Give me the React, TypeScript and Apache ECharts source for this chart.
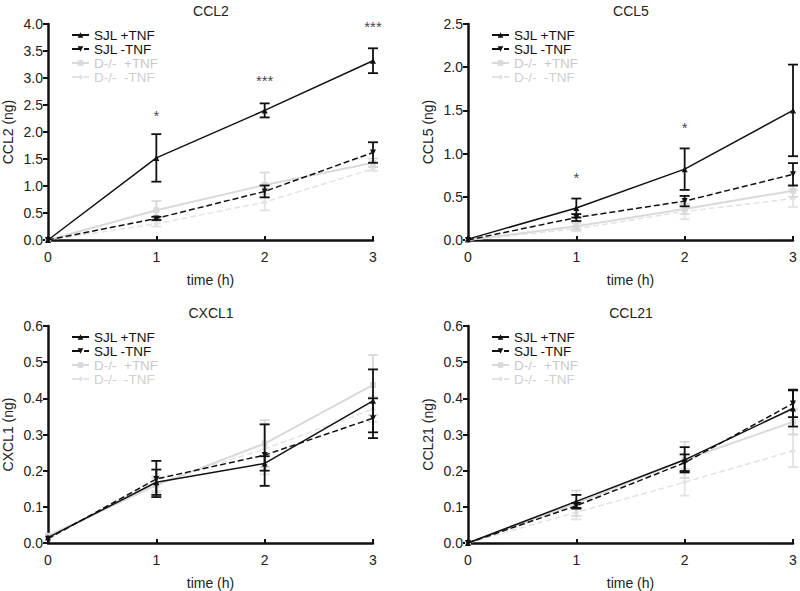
import React, { useEffect, useRef } from "react";
import * as echarts from "echarts";

const hours = [0, 1, 2, 3];
const seriesNames = ["SJL +TNF", "SJL -TNF", "D-/-  +TNF", "D-/-  -TNF"];

// CCL2
const ccl2SjlPlus = [0, 1.52, 2.4, 3.32];
const ccl2SjlPlusErr = [0, 0.44, 0.13, 0.23];
const ccl2SjlMinus = [0, 0.4, 0.9, 1.62];
const ccl2SjlMinusErr = [0, 0.03, 0.11, 0.19];
const ccl2DPlus = [0, 0.55, 1.02, 1.43];
const ccl2DPlusErr = [0, 0.17, 0.23, 0.08];
const ccl2DMinus = [0, 0.3, 0.7, 1.32];
const ccl2DMinusErr = [0, 0.05, 0.15, 0.04];
const ccl2Stars = [[1, 2.3, "*"], [2, 2.95, "***"], [3, 3.95, "***"]];

// CCL5
const ccl5SjlPlus = [0.01, 0.37, 0.82, 1.5];
const ccl5SjlPlusErr = [0, 0.11, 0.24, 0.53];
const ccl5SjlMinus = [0, 0.26, 0.45, 0.76];
const ccl5SjlMinusErr = [0, 0.04, 0.06, 0.13];
const ccl5DPlus = [0, 0.16, 0.36, 0.57];
const ccl5DPlusErr = [0, 0.04, 0.06, 0.07];
const ccl5DMinus = [0, 0.13, 0.33, 0.48];
const ccl5DMinusErr = [0, 0.03, 0.09, 0.1];
const ccl5Stars = [[1, 0.72, "*"], [2, 1.3, "*"]];

// CXCL1
const cxcl1SjlPlus = [0.015, 0.168, 0.22, 0.393];
const cxcl1SjlPlusErr = [0, 0.035, 0.02, 0.087];
const cxcl1SjlMinus = [0.012, 0.177, 0.243, 0.345];
const cxcl1SjlMinusErr = [0, 0.05, 0.085, 0.055];
const cxcl1DPlus = [0.02, 0.16, 0.275, 0.437];
const cxcl1DPlusErr = [0, 0.02, 0.065, 0.083];
const cxcl1DMinus = [0.015, 0.165, 0.26, 0.37];
const cxcl1DMinusErr = [0, 0.02, 0.07, 0.035];

// CCL21
const ccl21SjlPlus = [0, 0.115, 0.23, 0.372];
const ccl21SjlPlusErr = [0, 0.018, 0.035, 0.05];
const ccl21SjlMinus = [0, 0.103, 0.222, 0.386];
const ccl21SjlMinusErr = [0, 0.008, 0.023, 0.038];
const ccl21DPlus = [0, 0.11, 0.23, 0.335];
const ccl21DPlusErr = [0, 0.035, 0.05, 0.035];
const ccl21DMinus = [0, 0.085, 0.168, 0.255];
const ccl21DMinusErr = [0, 0.02, 0.037, 0.045];

const panels = [
  {
    title: "CCL2", yName: "CCL2 (ng)", max: 4, interval: 0.5,
    values: [ccl2SjlPlus, ccl2SjlMinus, ccl2DPlus, ccl2DMinus],
    errors: [ccl2SjlPlusErr, ccl2SjlMinusErr, ccl2DPlusErr, ccl2DMinusErr],
    stars: ccl2Stars,
  },
  {
    title: "CCL5", yName: "CCL5 (ng)", max: 2.5, interval: 0.5,
    values: [ccl5SjlPlus, ccl5SjlMinus, ccl5DPlus, ccl5DMinus],
    errors: [ccl5SjlPlusErr, ccl5SjlMinusErr, ccl5DPlusErr, ccl5DMinusErr],
    stars: ccl5Stars,
  },
  {
    title: "CXCL1", yName: "CXCL1 (ng)", max: 0.6, interval: 0.1,
    values: [cxcl1SjlPlus, cxcl1SjlMinus, cxcl1DPlus, cxcl1DMinus],
    errors: [cxcl1SjlPlusErr, cxcl1SjlMinusErr, cxcl1DPlusErr, cxcl1DMinusErr],
    stars: [],
  },
  {
    title: "CCL21", yName: "CCL21 (ng)", max: 0.6, interval: 0.1,
    values: [ccl21SjlPlus, ccl21SjlMinus, ccl21DPlus, ccl21DMinus],
    errors: [ccl21SjlPlusErr, ccl21SjlMinusErr, ccl21DPlusErr, ccl21DMinusErr],
    stars: [],
  },
];

const styles = [
  { color: "#111", dash: "solid", symbol: "triangle", rotate: 0, width: 1.5, legendText: "#111", z: 5 },
  { color: "#111", dash: "dashed", symbol: "triangle", rotate: 180, width: 1.5, legendText: "#111", z: 4 },
  { color: "#d9d9d9", dash: "solid", symbol: "rect", rotate: 0, width: 2, legendText: "#c9c9c9", z: 3 },
  { color: "#e3e3e3", dash: "dashed", symbol: "diamond", rotate: 0, width: 1.5, legendText: "#d0d0d0", z: 2 },
];

const gridLefts = [48, 468, 48, 468];
const gridTops = [24, 24, 326, 326];
const gridHeights = [216, 216, 218, 218];
const gridWidth = 325;
const FONT = "Liberation Sans, Arial, Helvetica, sans-serif";

export default function App() {
  const ref = useRef<HTMLDivElement>(null);
  useEffect(() => {
    if (!ref.current) return;
    const chart = echarts.init(ref.current, undefined, { renderer: "svg" });
    const grids: any[] = [];
    const xAxes: any[] = [];
    const yAxes: any[] = [];
    const series: any[] = [];
    const legends: any[] = [];
    const graphics: any[] = [];

    panels.forEach((p, i) => {
      grids.push({ left: gridLefts[i], top: gridTops[i], width: gridWidth, height: gridHeights[i] });
      xAxes.push({
        type: "value", gridIndex: i, min: 0, max: 3, interval: 1,
        name: "time (h)", nameLocation: "middle", nameGap: 33,
        nameTextStyle: { fontFamily: FONT, fontSize: 14, color: "#222" },
        axisLine: { show: true, onZero: false, lineStyle: { color: "#111", width: 2.5 } },
        axisTick: { show: true, inside: true, length: 4, lineStyle: { color: "#111", width: 2 } },
        axisLabel: { fontFamily: FONT, fontSize: 14, color: "#222", margin: 10 },
        splitLine: { show: false },
      });
      yAxes.push({
        type: "value", gridIndex: i, min: 0, max: p.max, interval: p.interval,
        name: p.yName, nameLocation: "middle", nameGap: 33,
        nameTextStyle: { fontFamily: FONT, fontSize: 14, color: "#222" },
        axisLine: { show: true, onZero: false, lineStyle: { color: "#111", width: 2.5 } },
        axisTick: { show: true, length: 5, lineStyle: { color: "#111", width: 2 } },
        axisLabel: { fontFamily: FONT, fontSize: 14, color: "#222", margin: 5, formatter: (v: number) => v.toFixed(1) },
        splitLine: { show: false },
      });
      graphics.push({
        type: "text", x: gridLefts[i] + 163, y: gridTops[i] - 13,
        style: { text: p.title, font: `14px ${FONT}`, fill: "#222", align: "center", verticalAlign: "middle" },
      });
      legends.push({
        orient: "vertical", left: gridLefts[i] + 23, top: gridTops[i] + 4, padding: 0,
        itemWidth: 17, itemHeight: 7, itemGap: 0,
        textStyle: { fontFamily: FONT, fontSize: 13.5, lineHeight: 11.5 },
        data: seriesNames.map((n, k) => ({ name: n, textStyle: { color: styles[k].legendText } })),
        selectedMode: false,
      });

      [3, 2, 1, 0].forEach((k) => {
        const st = styles[k];
        const vals = p.values[k];
        const errs = p.errors[k];
        series.push({
          type: "custom", xAxisIndex: i, yAxisIndex: i, z: st.z,
          silent: true,
          data: hours.map((h, j) => [h, vals[j] - errs[j], vals[j] + errs[j]]).filter((_, j) => errs[j] > 0),
          renderItem: (params: any, api: any) => {
            const lo = api.coord([api.value(0), api.value(1)]);
            const hi = api.coord([api.value(0), api.value(2)]);
            const s = { stroke: st.color, lineWidth: 1.8 };
            return {
              type: "group",
              children: [
                { type: "line", shape: { x1: lo[0], y1: lo[1], x2: hi[0], y2: hi[1] }, style: s },
                { type: "line", shape: { x1: lo[0] - 5, y1: lo[1], x2: lo[0] + 5, y2: lo[1] }, style: s },
                { type: "line", shape: { x1: hi[0] - 5, y1: hi[1], x2: hi[0] + 5, y2: hi[1] }, style: s },
              ],
            };
          },
        });
        series.push({
          name: seriesNames[k], type: "line", xAxisIndex: i, yAxisIndex: i, z: st.z + 0.5,
          data: hours.map((h, j) => [h, vals[j]]),
          symbol: st.symbol, symbolRotate: st.rotate, symbolSize: 6, showSymbol: true,
          itemStyle: { color: st.color },
          lineStyle: { color: st.color, width: st.width, type: st.dash },
          clip: false,
        });
      });

      if (p.stars.length) {
        series.push({
          type: "scatter", xAxisIndex: i, yAxisIndex: i, symbolSize: 0, silent: true,
          data: p.stars.map((s: any) => ({ value: [s[0], s[1]], label: { formatter: s[2] } })),
          label: { show: true, position: "inside", fontFamily: FONT, fontSize: 15, color: "#111" },
        });
      }
    });

    chart.setOption({
      animation: false,
      backgroundColor: "#fff",
      grid: grids,
      xAxis: xAxes,
      yAxis: yAxes,
      legend: legends,
      series,
      graphic: graphics,
    });
    return () => chart.dispose();
  }, []);
  return <div ref={ref} style={{ position: "absolute", left: 0, top: 0, width: 800, height: 591 }} />;
}
